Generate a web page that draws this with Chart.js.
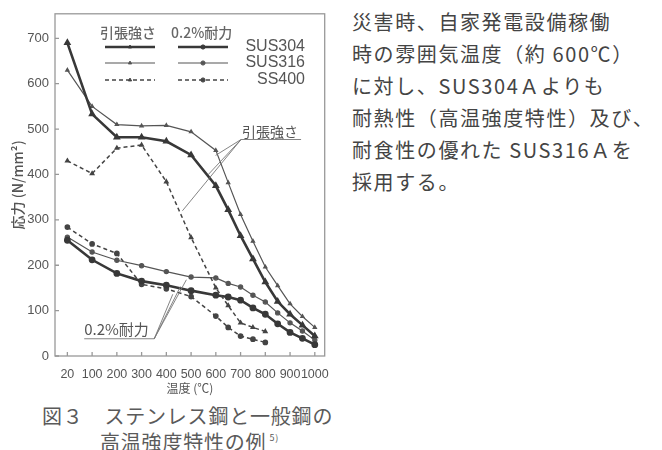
<!DOCTYPE html>
<html>
<head>
<meta charset="utf-8">
<script src="https://cdn.jsdelivr.net/npm/chart.js@4.4.0/dist/chart.umd.min.js"></script>
<style>
  body { margin: 0; background: #fff; width: 662px; height: 450px; overflow: hidden; font-family: "Noto Sans CJK JP", sans-serif; }
  #wrap { position: absolute; left: 0; top: 0; width: 340px; height: 400px; }
  .cap { position: absolute; color: #5a5a5a; font-size: 20px; letter-spacing: 0.8px; white-space: nowrap; line-height: 22px; }
  .cap sup { font-size: 9px; vertical-align: 9px; margin-left: 3px; }
  #note { position: absolute; left: 352px; top: 6px; font-size: 20px; line-height: 32px; letter-spacing: 1.6px; color: #444; white-space: nowrap; }
</style>
</head>
<body>
<div id="wrap"><canvas id="myChart" width="340" height="400"></canvas></div>
<div class="cap" style="left:42px;top:405px;">図３　ステンレス鋼と一般鋼の</div>
<div class="cap" style="left:100px;top:427px;">高温強度特性の例<sup>5)</sup></div>
<div id="note">災害時、自家発電設備稼働<br>時の雰囲気温度（約 600℃）<br>に対し、SUS304Ａよりも<br>耐熱性（高温強度特性）及び、<br>耐食性の優れた SUS316Ａを<br>採用する。</div>
<script>
const tickLabels = ["20", "100", "200", "300", "400", "500", "600", "700", "800", "900", "1000"];
const tempsSUS = [20, 100, 200, 300, 400, 500, 600, 650, 700, 750, 800, 850, 900, 950, 1000];
const tempsSS = [20, 100, 200, 300, 400, 500, 600, 650, 700, 750, 800];

const sus304Tensile = [690, 533, 482, 482, 473, 443, 375, 322, 265, 214, 163, 120, 92, 68, 44];
const sus316Tensile = [630, 550, 510, 507, 508, 494, 453, 382, 312, 253, 196, 155, 115, 87, 63];
const ss400Tensile = [430, 402, 458, 465, 384, 261, 150, 111, 73, 63, 54];
const sus304Proof = [255, 212, 182, 165, 156, 144, 134, 130, 123, 106, 92, 71, 52, 39, 25];
const sus316Proof = [262, 229, 211, 199, 186, 174, 172, 160, 152, 134, 119, 95, 73, 55, 35];
const ss400Proof = [284, 247, 226, 158, 148, 131, 88, 63, 44, 37, 30];

// 20℃ sits on the first slot, the rest are at temp/100
const xPos = t => (t === 20 ? 0 : t / 100);
const pts = (temps, vals) => vals.map((v, i) => ({ x: xPos(temps[i]), y: v }));

const thick = { borderColor: "#383838", backgroundColor: "#383838", borderWidth: 2.6 };
const thin = { borderColor: "#555", backgroundColor: "#555", borderWidth: 1.2 };
const dash = { borderColor: "#444", backgroundColor: "#444", borderWidth: 1.5, borderDash: [4, 3] };

const numFont = '"Liberation Sans Narrow", "Liberation Sans", Arial, sans-serif';
const sansFont = '"Liberation Sans", Arial, sans-serif';
const jpFont = '"Noto Sans CJK JP", sans-serif';

const frame = {
  id: "frame",
  beforeDatasetsDraw(chart) {
    const { ctx, chartArea: a, scales: { x, y } } = chart;
    ctx.save();
    ctx.strokeStyle = "#999";
    ctx.lineWidth = 1.3;
    ctx.strokeRect(a.left, a.top, a.right - a.left, a.bottom - a.top);
    ctx.beginPath();
    y.ticks.forEach(t => {
      const p = y.getPixelForValue(t.value);
      ctx.moveTo(a.left, p); ctx.lineTo(a.left + 4, p);
    });
    x.ticks.forEach(t => {
      const p = x.getPixelForValue(t.value);
      ctx.moveTo(p, a.bottom); ctx.lineTo(p, a.bottom - 4);
    });
    ctx.stroke();
    ctx.restore();
  },
  afterDatasetsDraw(chart) {
    const { ctx, scales: { x, y } } = chart;
    ctx.save();

    // legend block
    ctx.fillStyle = "#666";
    ctx.font = "500 14px " + jpFont;
    ctx.textBaseline = "middle";
    ctx.fillText("引張強さ", 100, 33);
    ctx.fillText("0.2%耐力", 171, 33);
    const rows = [[47, thick, "SUS304"], [63, thin, "SUS316"], [80, dash, "SS400"]];
    rows.forEach(([ry, st, name]) => {
      [[105, 155, "triangle"], [178, 228, "circle"]].forEach(([x1, x2, mk]) => {
        ctx.strokeStyle = st.borderColor;
        ctx.fillStyle = st.borderColor;
        ctx.lineWidth = st.borderWidth;
        ctx.setLineDash(st.borderDash || []);
        ctx.beginPath(); ctx.moveTo(x1, ry); ctx.lineTo(x2, ry); ctx.stroke();
        ctx.setLineDash([]);
        ctx.lineWidth = 1;
        Chart.helpers.drawPoint(ctx, { pointStyle: mk, radius: mk === "circle" ? 2.1 : 1.9, borderWidth: 1 }, (x1 + x2) / 2, ry);
      });
      ctx.fillStyle = "#555";
      ctx.font = "16px " + sansFont;
      ctx.textAlign = "right";
      ctx.fillText(name, 305, ry);
      ctx.textAlign = "left";
    });

    // leader notes, anchored in data units
    const P = (vx, vy) => [x.getPixelForValue(vx), y.getPixelForValue(vy)];
    ctx.strokeStyle = "#777";
    ctx.lineWidth = 0.9;
    ctx.fillStyle = "#555";
    ctx.textBaseline = "alphabetic";

    const [tx, ty] = P(7.02, 477);
    ctx.beginPath();
    ctx.moveTo(tx + 60, ty); ctx.lineTo(tx, ty);
    [[4.65, 320], [5.68, 399], [5.99, 442]].forEach(e => {
      const [ex, ey] = P(e[0], e[1]);
      ctx.moveTo(tx, ty); ctx.lineTo(ex, ey);
    });
    ctx.stroke();
    ctx.font = "14px " + jpFont;
    ctx.fillText("引張強さ", tx + 1, ty - 3);

    const [px, py] = P(3.51, 38);
    ctx.beginPath();
    ctx.moveTo(px - 70, py); ctx.lineTo(px, py);
    [[4.26, 136], [4.57, 153], [4.81, 168]].forEach(e => {
      const [ex, ey] = P(e[0], e[1]);
      ctx.moveTo(px, py); ctx.lineTo(ex, ey);
    });
    ctx.stroke();
    ctx.font = "15px " + jpFont;
    ctx.fillText("0.2%耐力", px - 70, py - 4);
    ctx.restore();
  }
};

const ctx = document.getElementById("myChart").getContext("2d");

new Chart(ctx, {
  type: "line",
  data: {
    datasets: [
      { label: "SUS304 引張強さ", data: pts(tempsSUS, sus304Tensile), ...thick, pointStyle: "triangle", pointRadius: 1.9 },
      { label: "SUS316 引張強さ", data: pts(tempsSUS, sus316Tensile), ...thin, pointStyle: "triangle", pointRadius: 1.9 },
      { label: "SS400 引張強さ", data: pts(tempsSS, ss400Tensile), ...dash, pointStyle: "triangle", pointRadius: 1.9 },
      { label: "SUS304 0.2%耐力", data: pts(tempsSUS, sus304Proof), ...thick, pointStyle: "circle", pointRadius: 2.1 },
      { label: "SUS316 0.2%耐力", data: pts(tempsSUS, sus316Proof), ...thin, pointStyle: "circle", pointRadius: 2.1 },
      { label: "SS400 0.2%耐力", data: pts(tempsSS, ss400Proof), ...dash, pointStyle: "circle", pointRadius: 2.1 }
    ]
  },
  options: {
    responsive: false,
    animation: false,
    layout: { padding: { top: 8, right: 8, left: 0, bottom: 0 } },
    elements: { line: { tension: 0 }, point: { borderWidth: 1 } },
    plugins: { legend: { display: false }, tooltip: { enabled: false } },
    scales: {
      x: {
        type: "linear",
        min: -0.5,
        max: 10.4,
        afterBuildTicks: s => { s.ticks = tickLabels.map((_, i) => ({ value: i })); },
        afterFit: s => { s.height = 44; },
        grid: { display: false, drawTicks: false },
        border: { display: false },
        ticks: {
          autoSkip: false, maxRotation: 0, padding: 11, color: "#555",
          font: { family: numFont, size: 12.5 },
          callback: v => tickLabels[v]
        },
        title: { display: true, text: "温度 (℃)", color: "#555", font: { family: jpFont, size: 12 }, padding: { top: 0, bottom: 4 } }
      },
      y: {
        min: 0,
        max: 754,
        afterBuildTicks: s => { s.ticks = s.ticks.filter(t => t.value % 100 === 0 && t.value <= 700); },
        afterFit: s => { s.width = 55; },
        grid: { display: false, drawTicks: false },
        border: { display: false },
        ticks: { stepSize: 100, padding: 6, color: "#555", font: { family: sansFont, size: 13 } },
        title: { display: true, text: "応力 (N/mm²)", color: "#555", font: { family: jpFont, size: 14, weight: "500" }, padding: { top: 9, bottom: 0 } }
      }
    }
  },
  plugins: [frame]
});
</script>
</body>
</html>
